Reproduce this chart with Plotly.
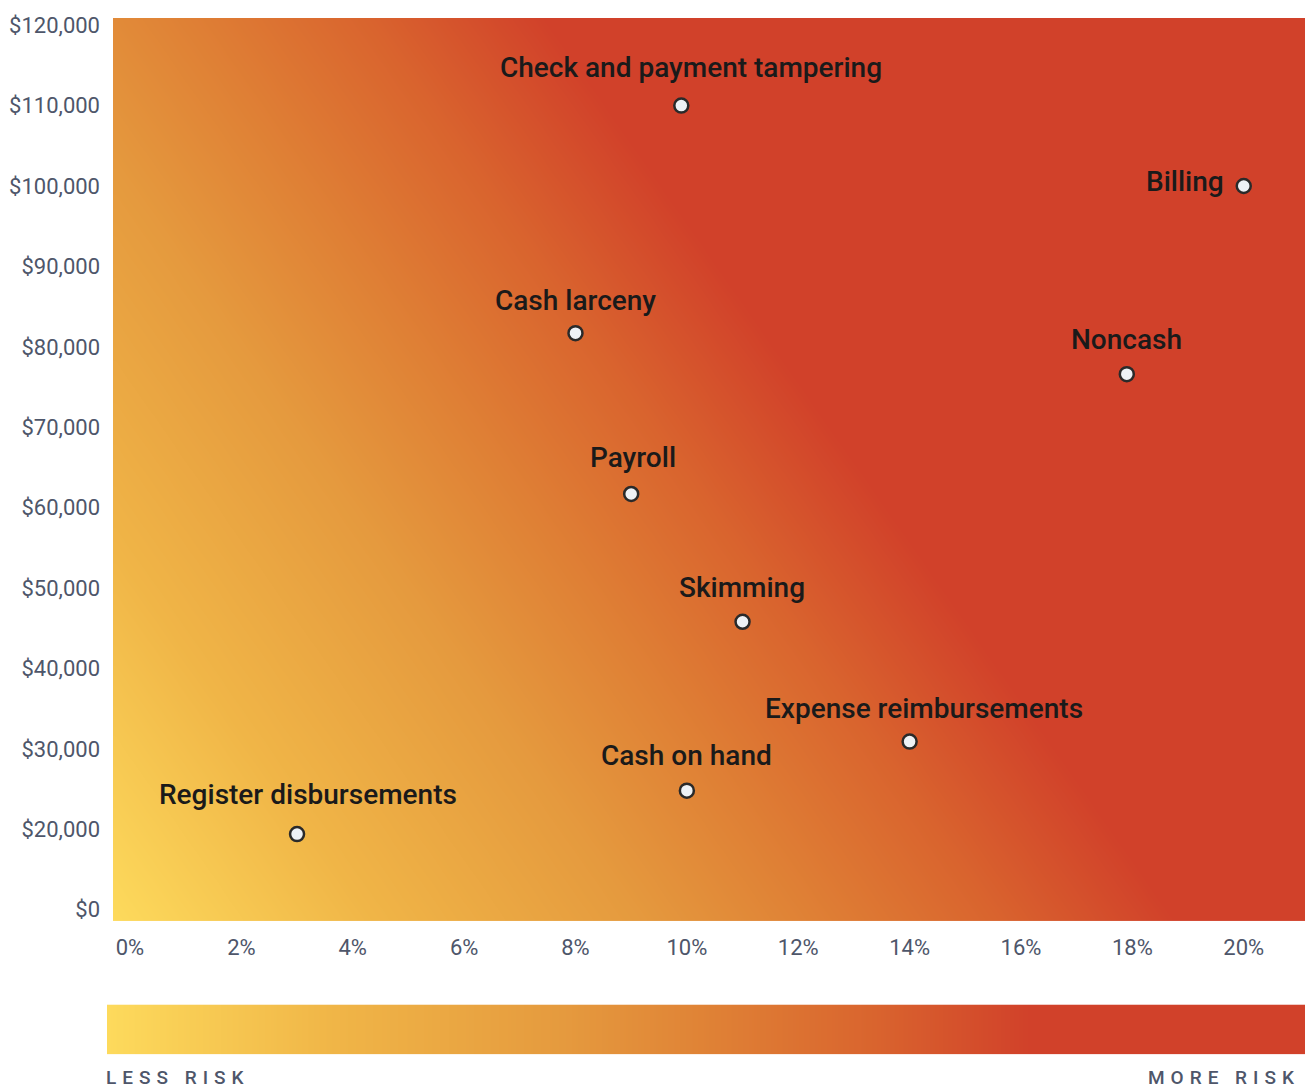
import numpy as np
import plotly.graph_objects as go

# ---------------- data ----------------
schemes = ["Check and payment tampering", "Billing", "Cash larceny", "Noncash",
           "Payroll", "Skimming", "Expense reimbursements", "Cash on hand",
           "Register disbursements"]
frequency_pct = [9.9, 20.0, 8.0, 17.9, 9.0, 11.0, 14.0, 10.0, 3.0]
median_loss = [110000, 100000, 81700, 76600, 61700, 45800, 30900, 24800, 19400]

x_tick_vals = [0, 2, 4, 6, 8, 10, 12, 14, 16, 18, 20]
x_tick_text = ["0%", "2%", "4%", "6%", "8%", "10%", "12%", "14%", "16%", "18%", "20%"]
y_tick_vals = [10000, 20000, 30000, 40000, 50000, 60000, 70000, 80000, 90000,
               100000, 110000, 120000]
y_tick_text = ["$0", "$20,000", "$30,000", "$40,000", "$50,000", "$60,000",
               "$70,000", "$80,000", "$90,000", "$100,000", "$110,000", "$120,000"]

# ---------------- styling / layout ----------------
W, H = 1306, 1091
PL, PR, PT, PB = 113, 1305, 13, 921          # plot area in px
XR = [-0.305, 21.1]
YR = [8600, 120900]

risk_scale = [
    [0.00, "#FDDA5C"], [0.19, "#F0B547"], [0.38, "#E59A3E"], [0.51, "#DF8035"],
    [0.64, "#D9642E"], [0.77, "#D1412A"], [1.00, "#D1412A"],
]

# label placement (style): (xanchor, xshift, yshift)
label_pos = {
    "Check and payment tampering": ("center", 10, 38),
    "Billing": ("right", -18, 4),
    "Cash larceny": ("center", 0, 33),
    "Noncash": ("center", 0, 35),
    "Payroll": ("center", 2, 36),
    "Skimming": ("center", -1, 34),
    "Expense reimbursements": ("center", 14, 33),
    "Cash on hand": ("center", 0, 35),
    "Register disbursements": ("center", 11, 40),
}

# ---------------- background gradient (decoration) ----------------
xpad = (XR[1] - XR[0]) * 0.03
ypad = (YR[1] - YR[0]) * 0.03
gx = np.linspace(XR[0] - xpad, XR[1] + xpad, 100)
gy = np.linspace(YR[0] - ypad, YR[1] + ypad, 100)
GX, GY = np.meshgrid(gx, gy)
dx_px = np.clip((GX - XR[0]) / (XR[1] - XR[0]), 0, 1) * (PR - PL)
dy_px = np.clip((GY - YR[0]) / (YR[1] - YR[0]), 0, 1) * (PB - PT)
t = (1.44 * dx_px + dy_px) / 1530.0
gz = np.clip(t * 0.77, 0, 1)

fig = go.Figure()
fig.add_trace(go.Heatmap(
    x=gx, y=gy, z=gz, colorscale=risk_scale, zmin=0, zmax=1,
    zsmooth="best", showscale=False, hoverinfo="skip", xaxis="x", yaxis="y"))

fig.add_trace(go.Scatter(
    x=frequency_pct, y=median_loss, mode="markers", text=schemes,
    marker=dict(size=14, color="#EEF2F6", line=dict(color="#2A2A2A", width=2.5)),
    hovertemplate="%{text}<br>%{x}%<br>$%{y:,}<extra></extra>",
    xaxis="x", yaxis="y"))

# colour bar strip
cb_x = np.linspace(0, 1, 200)
fig.add_trace(go.Heatmap(
    x=cb_x, y=[0, 1], z=[cb_x, cb_x], colorscale=risk_scale, zmin=0, zmax=1,
    zsmooth="best", showscale=False, hoverinfo="skip", xaxis="x2", yaxis="y2"))

annotations = []
for name, fx, ly in zip(schemes, frequency_pct, median_loss):
    anc, xs, ys = label_pos[name]
    annotations.append(dict(
        x=fx, y=ly, xref="x", yref="y", text=name, showarrow=False,
        xanchor=anc, yanchor="middle", xshift=xs, yshift=ys,
        font=dict(family="Roboto", size=28, color="#1A1A1A", weight=500)))

annotations.append(dict(
    x=104 / W, y=1 - 1078 / H, xref="paper", yref="paper",
    text='<span style="letter-spacing:6px">LESS RISK</span>', showarrow=False,
    xanchor="left", yanchor="middle",
    font=dict(family="Roboto", size=19, color="#4E566A", weight=500)))
annotations.append(dict(
    x=1146 / W, y=1 - 1078 / H, xref="paper", yref="paper",
    text='<span style="letter-spacing:6px">MORE RISK</span>', showarrow=False,
    xanchor="left", yanchor="middle",
    font=dict(family="Roboto", size=19, color="#4E566A", weight=500)))

tick_font = dict(family="Roboto", size=22, color="#4E566A")

fig.update_layout(
    width=W, height=H,
    margin=dict(l=0, r=0, t=0, b=0),
    paper_bgcolor="white", plot_bgcolor="white",
    showlegend=False,
    annotations=annotations,
    xaxis=dict(domain=[PL / W, PR / W], range=XR, anchor="y",
               tickvals=x_tick_vals, ticktext=x_tick_text, tickfont=tick_font,
               showgrid=False, zeroline=False, showline=False, ticks="",
               ticklabelstandoff=11, fixedrange=True),
    yaxis=dict(domain=[1 - PB / H, 1 - PT / H], range=YR, anchor="x",
               tickvals=y_tick_vals, ticktext=y_tick_text, tickfont=tick_font,
               showgrid=False, zeroline=False, showline=False, ticks="",
               ticklabelstandoff=12, fixedrange=True),
    xaxis2=dict(domain=[107 / W, 1305 / W], range=[0, 1], anchor="y2",
                visible=False, fixedrange=True),
    yaxis2=dict(domain=[1 - 1055 / H, 1 - 1005 / H], range=[0, 1], anchor="x2",
                visible=False, fixedrange=True),
)

fig.write_html("out.html")
